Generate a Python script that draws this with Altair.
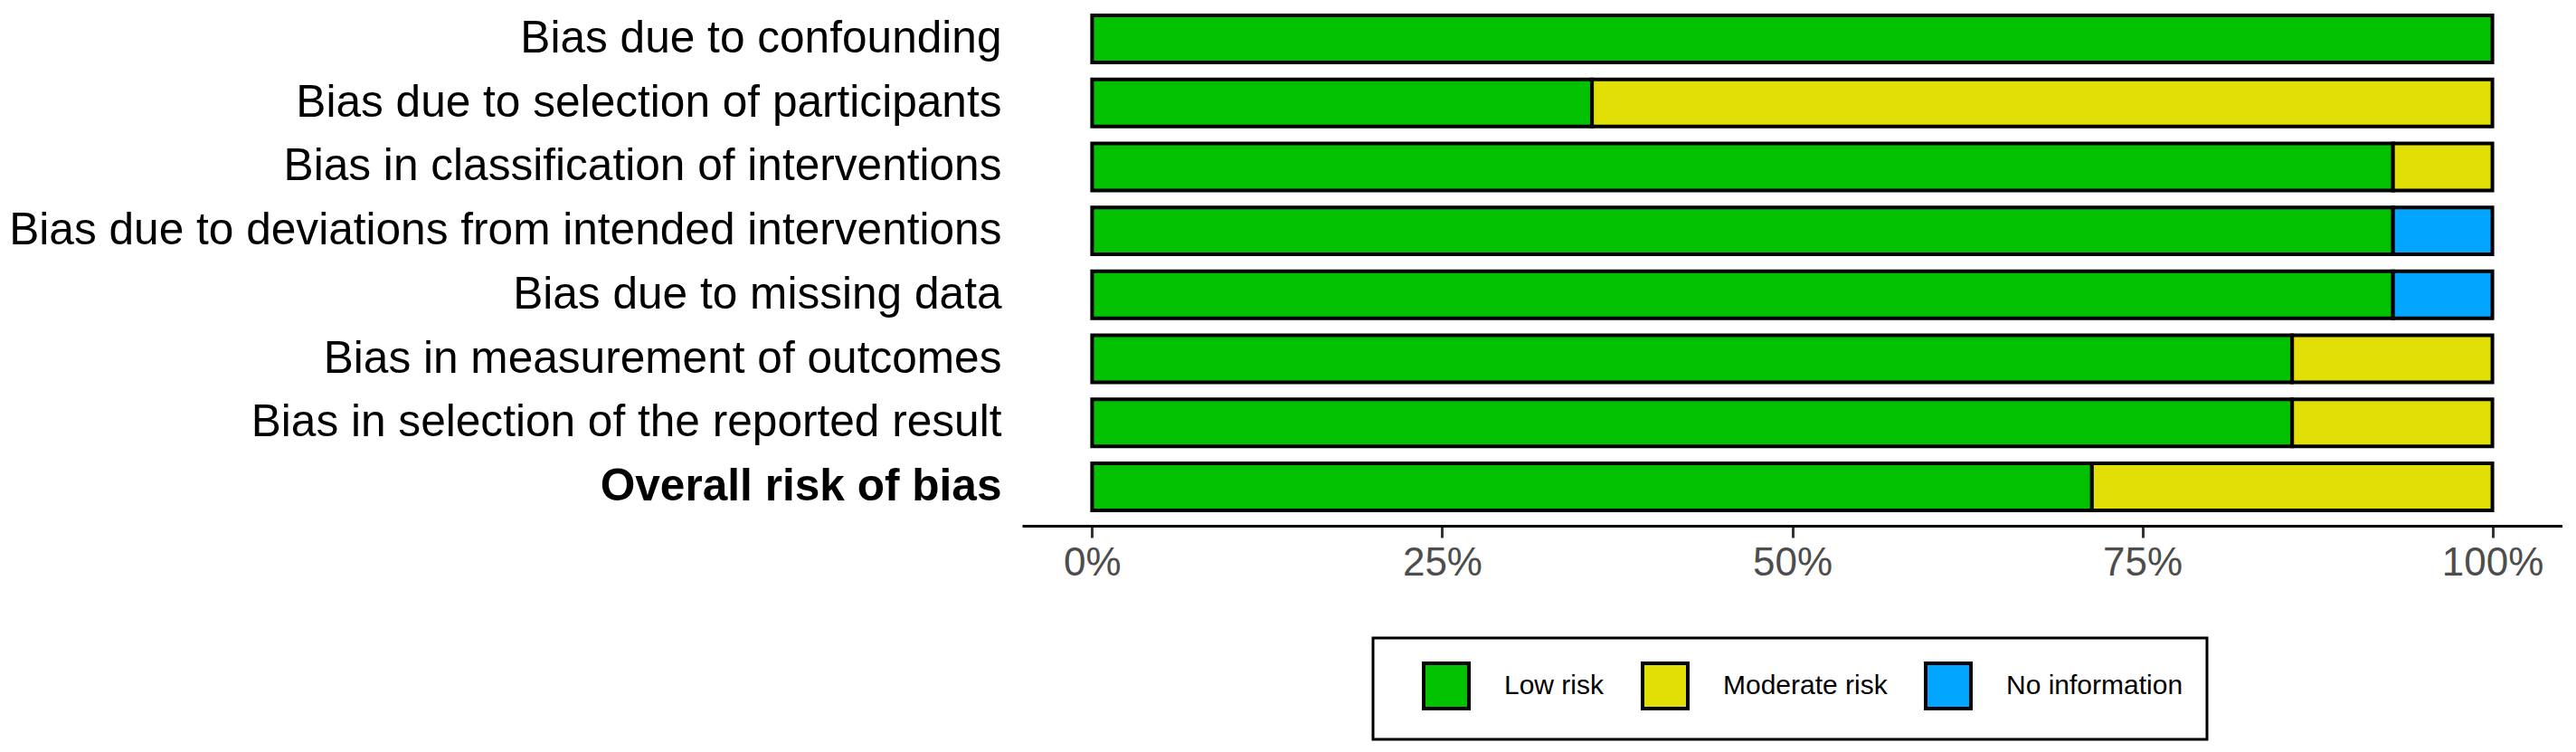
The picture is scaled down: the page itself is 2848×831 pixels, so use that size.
import altair as alt
import pandas as pd

domains = [
    "Bias due to confounding",
    "Bias due to selection of participants",
    "Bias in classification of interventions",
    "Bias due to deviations from intended interventions",
    "Bias due to missing data",
    "Bias in measurement of outcomes",
    "Bias in selection of the reported result",
    "Overall risk of bias",
]
low_risk = [1.0, 0.357, 0.929, 0.929, 0.929, 0.857, 0.857, 0.714]
moderate_risk = [0.0, 0.643, 0.071, 0.0, 0.0, 0.143, 0.143, 0.286]
no_information = [0.0, 0.0, 0.0, 0.071, 0.071, 0.0, 0.0, 0.0]
judgements = ["Low risk", "Moderate risk", "No information"]
colors = ["#02C100", "#E2DF07", "#02A5FF"]
tick_values = [0, 0.25, 0.5, 0.75, 1.0]

rows = []
for i, d in enumerate(domains):
    for j, (name, vals) in enumerate(zip(judgements, [low_risk, moderate_risk, no_information])):
        if vals[i] > 0:
            rows.append({"domain": d, "judgement": name, "order": j, "value": vals[i]})
df = pd.DataFrame(rows)

chart = alt.Chart(df).mark_bar(stroke="black", strokeWidth=4).encode(
    x=alt.X(
        "value:Q",
        stack="zero",
        scale=alt.Scale(domain=[-0.05, 1.05], nice=False, zero=False),
        axis=alt.Axis(
            values=tick_values, format=".0%", title=None, grid=False,
            domainColor="black", domainWidth=3,
            tickColor="#333333", tickWidth=3, tickSize=13,
            labelFontSize=44, labelColor="#4D4D4D", labelPadding=6,
        ),
    ),
    y=alt.Y(
        "domain:N",
        sort=domains,
        scale=alt.Scale(paddingInner=0.265, paddingOuter=0.184, align=0.346),
        axis=alt.Axis(
            title=None, domain=False, ticks=False, labelFontSize=49.6,
            labelColor="black", labelPadding=23, labelLimit=0,
            labelFontWeight={"condition": {"test": "datum.value == 'Overall risk of bias'", "value": "bold"}, "value": "normal"},
        ),
    ),
    color=alt.Color(
        "judgement:N",
        scale=alt.Scale(domain=judgements, range=colors),
        legend=alt.Legend(
            title=None, orient="none", legendX=388, legendY=697,
            direction="horizontal", strokeColor="black",
            padding=26, columnPadding=12, symbolOffset=28,
            symbolType="square", symbolSize=2500,
            symbolStrokeColor="black", symbolStrokeWidth=4, symbolOpacity=1,
            labelFontSize=30, labelColor="black", labelOffset=37, labelLimit=600,
        ),
    ),
    order=alt.Order("order:Q"),
).properties(
    width=1703,
    height=573,
    padding={"left": 1122, "top": 0, "right": 0, "bottom": 240},
    autosize=alt.AutoSizeParams(type="none"),
).configure(
    font="Liberation Sans",
).configure_view(
    stroke=None,
).configure_legend(
    strokeWidth=3,
)

chart.save("out.html", embed_options={"renderer": "svg", "actions": False})
